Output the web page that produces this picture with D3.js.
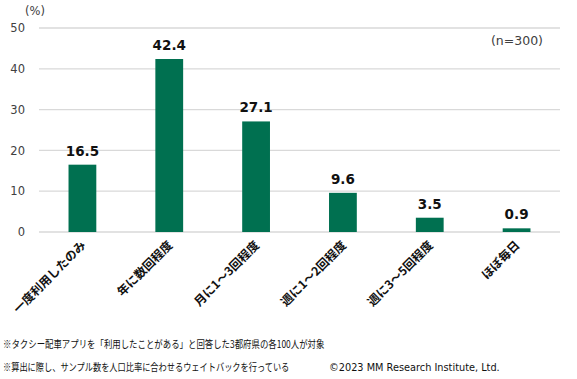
<!DOCTYPE html>
<html>
<head>
<meta charset="utf-8">
<script src="https://cdn.jsdelivr.net/npm/d3@7"></script>
<style>
  body { margin: 0; background: #fff; }
  text { font-family: "Noto Sans CJK JP", "Noto Sans", sans-serif; }
  .latin { font-family: "DejaVu Sans", Verdana, sans-serif; }
</style>
</head>
<body>
<div id="chart"></div>
<script>
// data
var categories = ["一度利用したのみ", "年に数回程度", "月に1～3回程度", "週に1～2回程度", "週に3～5回程度", "ほぼ毎日"];
var values = [16.5, 42.4, 27.1, 9.6, 3.5, 0.9];
var yTicks = [0, 10, 20, 30, 40, 50];
var notes = [
    "※タクシー配車アプリを「利用したことがある」と回答した3都府県の各100人が対象",
    "※算出に際し、サンプル数を人口比率に合わせるウェイトバックを行っている"
];
var noteWidths = [322, 287];

var W = 577, H = 379;
var margin = { top: 28, right: 17, bottom: 147, left: 39 },
    width = W - margin.left - margin.right,
    height = H - margin.top - margin.bottom;

var svg = d3.select("#chart").append("svg")
    .attr("width", W)
    .attr("height", H);

var g = svg.append("g")
    .attr("transform", "translate(" + margin.left + "," + margin.top + ")");

var xScale = d3.scaleBand().domain(categories).range([0, width]).paddingInner(0.68).paddingOuter(0.34);
var yScale = d3.scaleLinear().domain([0, 50]).range([height, 0]);

// gridlines
g.selectAll(".grid")
    .data(yTicks)
    .enter().append("line")
    .attr("x1", 0)
    .attr("x2", width)
    .attr("y1", function (d) { return yScale(d); })
    .attr("y2", function (d) { return yScale(d); })
    .style("stroke", "#d9d9d9")
    .style("stroke-width", 1.3);

// y axis labels
var yAxis = g.append("g")
    .call(d3.axisLeft(yScale).tickValues(yTicks).tickSize(0).tickPadding(14));
yAxis.select(".domain").remove();
yAxis.selectAll("text")
    .attr("class", "latin")
    .style("font-family", "'DejaVu Sans', sans-serif")
    .style("font-size", "11.5px")
    .style("fill", "#404040");

// (%)
g.append("text")
    .attr("class", "latin")
    .attr("x", -14)
    .attr("y", -13)
    .style("font-size", "11.5px")
    .style("fill", "#404040")
    .text("(%)");

// bars
g.selectAll(".bar")
    .data(values)
    .enter().append("rect")
    .attr("x", function (d, i) { return xScale(categories[i]); })
    .attr("y", function (d) { return yScale(d); })
    .attr("width", xScale.bandwidth())
    .attr("height", function (d) { return height - yScale(d); })
    .style("fill", "#007050");

// value labels
g.selectAll(".val")
    .data(values)
    .enter().append("text")
    .attr("class", "latin")
    .attr("x", function (d, i) { return xScale(categories[i]) + xScale.bandwidth() / 2; })
    .attr("y", function (d) { return yScale(d) - 9; })
    .style("text-anchor", "middle")
    .style("font-size", "13.5px")
    .style("font-weight", "bold")
    .style("fill", "#111")
    .text(function (d) { return d.toFixed(1); });

// category labels (rotated)
g.selectAll(".cat")
    .data(categories)
    .enter().append("text")
    .attr("transform", function (d) {
        var cx = xScale(d) + xScale.bandwidth() / 2 + 4;
        return "translate(" + cx + "," + (height + 14) + ") rotate(-45)";
    })
    .style("text-anchor", "end")
    .style("font-size", "12px")
    .style("font-weight", "bold")
    .style("fill", "#111")
    .text(function (d) { return d; });

// n
svg.append("text")
    .attr("class", "latin")
    .attr("x", 543)
    .attr("y", 45)
    .style("text-anchor", "end")
    .style("font-size", "12.5px")
    .style("fill", "#404040")
    .text("(n=300)");

// notes - squeeze horizontally to fit the original widths
svg.selectAll(".note")
    .data(notes)
    .enter().append("text")
    .attr("class", "note")
    .style("font-size", "10.5px")
    .style("fill", "#111")
    .text(function (d) { return d; })
    .attr("transform", function (d, i) {
        var sx = noteWidths[i] / this.getComputedTextLength();
        return "translate(3," + (348 + i * 23) + ") scale(" + sx + ",1)";
    });

svg.append("text")
    .attr("class", "latin")
    .style("font-size", "10.5px")
    .style("fill", "#111")
    .text("©2023 MM Research Institute, Ltd.")
    .attr("transform", function () {
        var sx = 171 / this.getComputedTextLength();
        return "translate(329,371) scale(" + sx + ",1)";
    });
</script>
</body>
</html>
